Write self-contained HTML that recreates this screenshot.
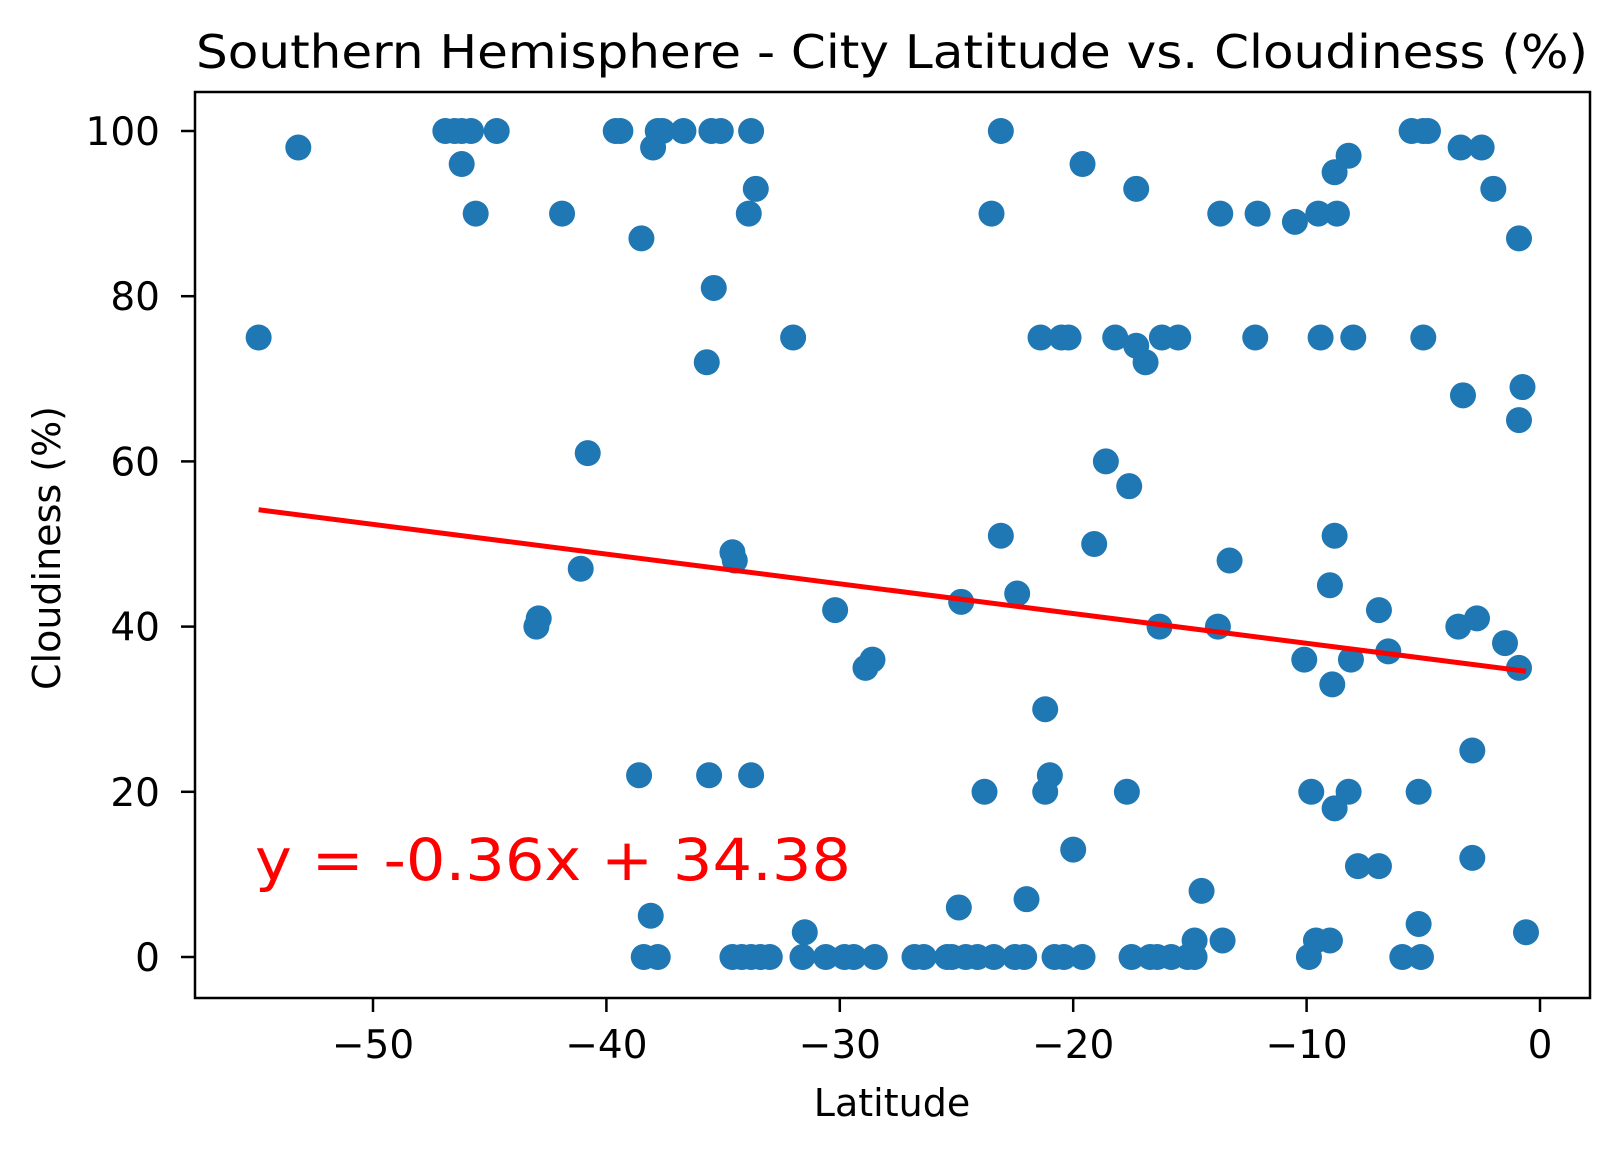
<!DOCTYPE html>
<html><head><meta charset="utf-8"><style>
html,body{margin:0;padding:0;background:#fff;}
svg{display:block;font-family:"DejaVu Sans","Liberation Sans",sans-serif;}
</style></head><body>
<svg id="chart" width="1620" height="1154" viewBox="0 0 1620 1154" xmlns="http://www.w3.org/2000/svg">
<rect width="1620" height="1154" fill="#fff"/>
<text x="892" y="68" font-size="46" text-anchor="middle" textLength="1392" lengthAdjust="spacingAndGlyphs">Southern Hemisphere - City Latitude vs. Cloudiness (%)</text>
<g id="points"></g>
<g id="ticks"></g>
<rect x="195" y="92" width="1395" height="906" fill="none" stroke="#000" stroke-width="2.5"/>
<text x="892" y="1116" font-size="38" text-anchor="middle">Latitude</text>
<text x="0" y="0" font-size="38" text-anchor="middle" transform="translate(60,548) rotate(-90)">Cloudiness (%)</text>
<text x="255" y="880" font-size="58" fill="#ff0000" textLength="596" lengthAdjust="spacingAndGlyphs">y = -0.36x + 34.38</text>
</svg>
<script>
const lats=[-54.9,-53.2,-46.9,-46.5,-46.2,-45.8,-46.2,-45.6,-44.7,-41.9,-40.8,-41.1,-42.9,-43.0,-39.6,-39.4,-38.5,-38.6,-38.0,-37.8,-37.6,-36.7,-38.1,-38.4,-37.8,-35.7,-35.4,-35.5,-35.1,-35.6,-34.6,-34.5,-33.8,-33.6,-33.9,-33.8,-34.6,-34.2,-33.8,-33.4,-33.0,-32.0,-31.5,-31.6,-30.6,-29.8,-29.4,-28.5,-30.2,-28.9,-28.6,-26.8,-26.4,-25.4,-25.2,-24.6,-24.1,-23.4,-22.5,-22.1,-24.8,-24.9,-23.5,-23.1,-23.1,-23.8,-22.4,-22.0,-21.4,-20.5,-20.2,-21.2,-21.0,-21.2,-20.0,-20.8,-20.4,-19.6,-19.6,-18.6,-19.1,-18.2,-17.6,-17.3,-17.3,-16.9,-17.7,-17.5,-16.7,-16.4,-15.8,-15.1,-14.8,-16.2,-15.5,-16.3,-14.8,-14.5,-13.7,-13.8,-13.3,-13.6,-12.2,-12.1,-10.5,-10.1,-9.8,-9.9,-9.6,-9.5,-9.4,-9.0,-8.9,-8.8,-9.0,-8.7,-8.8,-8.8,-8.2,-8.0,-8.1,-8.2,-7.8,-6.9,-6.9,-6.5,-5.5,-5.9,-5.1,-5.2,-5.2,-5.0,-4.8,-5.0,-3.4,-2.5,-2.0,-3.3,-3.5,-2.7,-2.9,-2.9,-1.5,-0.9,-0.75,-0.9,-0.9,-0.6];
const clouds=[75,98,100,100,100,100,96,90,100,90,61,47,41,40,100,100,87,22,98,100,100,100,5,0,0,72,81,100,100,22,49,48,100,93,90,22,0,0,0,0,0,75,3,0,0,0,0,0,42,35,36,0,0,0,0,0,0,0,0,0,43,6,90,100,51,20,44,7,75,75,75,30,22,20,13,0,0,0,96,60,50,75,57,93,74,72,20,0,0,0,0,0,0,75,75,40,2,8,90,40,48,2,75,90,89,36,20,0,2,90,75,45,33,18,2,90,95,51,97,75,36,20,11,11,42,37,100,0,0,4,20,100,100,75,98,98,93,68,40,41,25,12,38,87,69,65,35,3];
const xTicks=[-50,-40,-30,-20,-10,0];
const yTicks=[0,20,40,60,80,100];
const slope=-0.36, intercept=34.38;
const X=v=>1540+v*23.34;
const Y=v=>957-v*8.26;
const NS="http://www.w3.org/2000/svg";
const pg=document.getElementById('points');
for(let i=0;i<lats.length;i++){
  const c=document.createElementNS(NS,'circle');
  c.setAttribute('cx',X(lats[i]));c.setAttribute('cy',Y(clouds[i]));c.setAttribute('r',13);c.setAttribute('fill','#1f77b4');
  
  
  pg.appendChild(c);
}
const mn=Math.min(...lats), mx=Math.max(...lats);
const ln=document.createElementNS(NS,'line');
ln.setAttribute('x1',X(mn));ln.setAttribute('y1',Y(slope*mn+intercept));
ln.setAttribute('x2',X(mx));ln.setAttribute('y2',Y(slope*mx+intercept));
ln.setAttribute('stroke','#ff0000');ln.setAttribute('stroke-width',5);


document.getElementById('chart').insertBefore(ln,document.getElementById('ticks'));
const tg=document.getElementById('ticks');
xTicks.forEach(t=>{
  const l=document.createElementNS(NS,'line');
  l.setAttribute('x1',X(t));l.setAttribute('x2',X(t));l.setAttribute('y1',998);l.setAttribute('y2',1012);l.setAttribute('stroke','#000');l.setAttribute('stroke-width',2.5);
  
  
  tg.appendChild(l);
  const tx=document.createElementNS(NS,'text');
  tx.setAttribute('x',X(t));tx.setAttribute('y',1058);tx.setAttribute('font-size',39);tx.setAttribute('text-anchor','middle');
  tx.textContent=(t<0?'\u2212':'')+Math.abs(t);
  
  
  tg.appendChild(tx);
});
yTicks.forEach(t=>{
  const l=document.createElementNS(NS,'line');
  l.setAttribute('x1',181);l.setAttribute('x2',195);l.setAttribute('y1',Y(t));l.setAttribute('y2',Y(t));l.setAttribute('stroke','#000');l.setAttribute('stroke-width',2.5);
  
  
  tg.appendChild(l);
  const tx=document.createElementNS(NS,'text');
  tx.setAttribute('x',160);tx.setAttribute('y',Y(t)+14);tx.setAttribute('font-size',39);tx.setAttribute('text-anchor','end');
  tx.textContent=t;
  
  
  tg.appendChild(tx);
});
</script>
</body></html>
